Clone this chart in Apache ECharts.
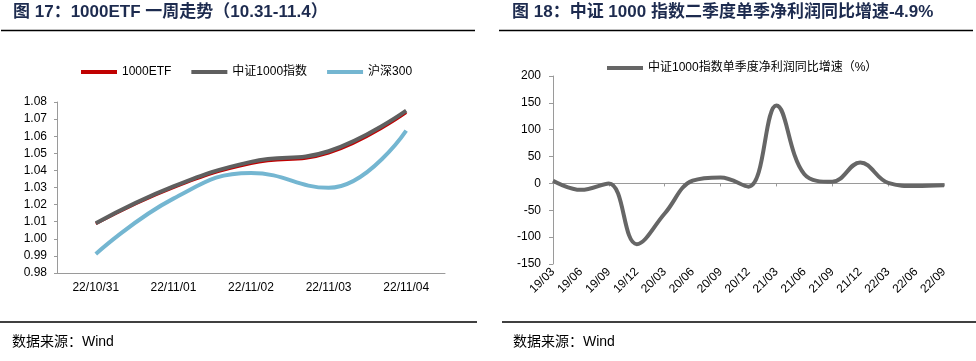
<!DOCTYPE html>
<html>
<head>
<meta charset="utf-8">
<script src="https://cdn.jsdelivr.net/npm/echarts@6/dist/echarts.min.js"></script>
<style>
html,body{margin:0;padding:0;background:#fff;}
#c{width:976px;height:361px;}
</style>
</head>
<body>
<div id="c"></div>
<script>
// Left chart data
const leftDates = ['22/10/31','22/11/01','22/11/02','22/11/03','22/11/04'];
const etf1000 = [1.0088, 1.0300, 1.0440, 1.0501, 1.0738];
const csi1000 = [1.0091, 1.0306, 1.0450, 1.0512, 1.0749];
const hs300 = [0.9911, 1.0235, 1.0385, 1.0298, 1.0633];
// Right chart data
const quarters = ['19/03','19/06','19/09','19/12','20/03','20/06','20/09','20/12','21/03','21/06','21/09','21/12','22/03','22/06','22/09'];
const profitYoY = [5, -12, 0, -113, -56, 5, 11, -6, 145, 17, 3, 39, 1, -4.9, -3.5];

const FONT = '"Liberation Sans", Arial, "Noto Sans CJK SC", sans-serif';
const chart = echarts.init(document.getElementById('c'), null, {renderer: 'canvas'});

const axisGray = '#9a9a9a';
const option = {
  animation: false,
  textStyle: {fontFamily: FONT},
  graphic: [
    {type:'text', left: 13, top: 4, style:{text:'图 17：1000ETF 一周走势（10.31-11.4）', font:'bold 17px ' + FONT, fill:'#1d2b4f'}},
    {type:'text', left: 512, top: 4, style:{text:'图 18：中证 1000 指数二季度单季净利润同比增速-4.9%', font:'bold 17px ' + FONT, fill:'#1d2b4f'}},
    {type:'line', shape:{x1:1,y1:30.5,x2:475,y2:30.5}, style:{stroke:'#000', lineWidth:1.5}},
    {type:'line', shape:{x1:499,y1:30.5,x2:973,y2:30.5}, style:{stroke:'#000', lineWidth:1.5}},
    {type:'line', shape:{x1:0,y1:322,x2:477,y2:322}, style:{stroke:'#000', lineWidth:1.5}},
    {type:'line', shape:{x1:502,y1:322,x2:976,y2:322}, style:{stroke:'#000', lineWidth:1.5}},
    {type:'text', left: 12, top: 335, style:{text:'数据来源：Wind', font:'14px ' + FONT, fill:'#000'}},
    {type:'text', left: 513, top: 335, style:{text:'数据来源：Wind', font:'14px ' + FONT, fill:'#000'}}
  ],
  legend: [
    {
      left: 76, top: 61, itemWidth: 36, itemHeight: 4, itemGap: 20, icon: 'rect',
      textStyle: {fontSize: 12, color: '#000', fontFamily: FONT},
      data: ['1000ETF','中证1000指数','沪深300']
    },
    {
      left: 602, top: 57, itemWidth: 36, itemHeight: 4, icon: 'rect',
      textStyle: {fontSize: 12, color: '#000', fontFamily: FONT},
      data: ['中证1000指数单季度净利润同比增速（%）']
    }
  ],
  grid: [
    {left: 57, top: 102, width: 388, height: 171},
    {left: 553, top: 76, width: 391, height: 188}
  ],
  xAxis: [
    {
      gridIndex: 0, type: 'category', data: leftDates, boundaryGap: true,
      axisLine: {lineStyle: {color: axisGray}},
      axisTick: {length: 4, lineStyle: {color: axisGray}},
      axisLabel: {color: '#000', fontSize: 12, margin: 9}
    },
    {
      gridIndex: 1, type: 'category', data: quarters, boundaryGap: false,
      axisLine: {onZero: true, lineStyle: {color: axisGray}},
      axisTick: {length: 3, lineStyle: {color: axisGray}},
      axisLabel: {show: false}
    },
    {
      gridIndex: 1, type: 'category', data: quarters, boundaryGap: false, position: 'bottom',
      axisLine: {show: false, onZero: false},
      axisTick: {show: false},
      axisLabel: {color: '#000', fontSize: 12, rotate: 45, margin: 6, interval: 0}
    }
  ],
  yAxis: [
    {
      gridIndex: 0, type: 'value', min: 0.98, max: 1.08, interval: 0.01,
      axisLine: {show: true, lineStyle: {color: axisGray}},
      axisTick: {show: true, length: 3, lineStyle: {color: axisGray}},
      splitLine: {show: false},
      axisLabel: {color: '#000', fontSize: 12, margin: 10, formatter: v => v.toFixed(2)}
    },
    {
      gridIndex: 1, type: 'value', min: -150, max: 200, interval: 50,
      axisLine: {show: true, lineStyle: {color: axisGray}},
      axisTick: {show: true, length: 4, lineStyle: {color: axisGray}},
      splitLine: {show: false},
      axisLabel: {color: '#000', fontSize: 12, margin: 12}
    }
  ],
  series: [
    {name:'1000ETF', type:'line', xAxisIndex:0, yAxisIndex:0, data: etf1000, smooth: 0.45, showSymbol:false, symbol:'none',
      lineStyle:{color:'#c00000', width:3}, itemStyle:{color:'#c00000'}, z: 2},
    {name:'中证1000指数', type:'line', xAxisIndex:0, yAxisIndex:0, data: csi1000, smooth: 0.45, showSymbol:false, symbol:'none',
      lineStyle:{color:'#5f5f5f', width:4}, itemStyle:{color:'#5f5f5f'}, z: 3},
    {name:'沪深300', type:'line', xAxisIndex:0, yAxisIndex:0, data: hs300, smooth: 0.45, showSymbol:false, symbol:'none',
      lineStyle:{color:'#74b6d1', width:4}, itemStyle:{color:'#74b6d1'}, z: 3},
    {name:'中证1000指数单季度净利润同比增速（%）', type:'line', xAxisIndex:1, yAxisIndex:1, data: profitYoY, smooth: 0.4, showSymbol:false, symbol:'none',
      lineStyle:{color:'#666666', width:4}, itemStyle:{color:'#666666'}, z: 3}
  ]
};
chart.setOption(option);
</script>
</body>
</html>
